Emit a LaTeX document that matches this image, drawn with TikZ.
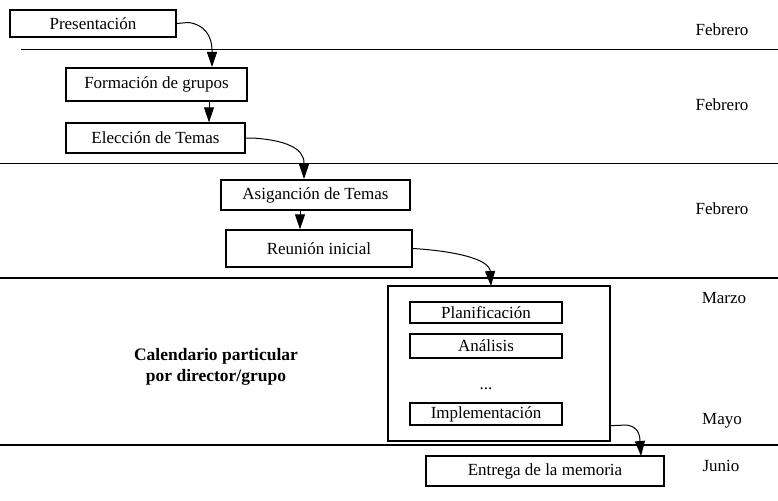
\documentclass[tikz,border=0pt]{standalone}
\usepackage{fontspec}
\setmainfont{Liberation Serif}
\usetikzlibrary{arrows.meta}
\begin{document}
\begin{tikzpicture}[x=1pt,y=-1pt,
  every node/.style={font=\fontsize{17}{21}\selectfont},
  box/.style={draw=black,line width=1.3pt,fill=white,inner sep=0pt,anchor=center},
  sep/.style={line width=1.3pt},
  arr/.style={line width=1pt,-{Triangle[length=15pt,width=10pt]}},
  lab/.style={anchor=center,inner sep=0pt}]
\useasboundingbox (0,0) rectangle (778,500);
% separators
\draw[sep] (21,49.5) -- (778,49.5);
\draw[sep] (0,163.5) -- (778,163.5);
\draw[sep] (0,278) -- (778,278);
\draw[sep] (0,445) -- (778,445);
% boxes
\node[box,minimum width=166pt,minimum height=27pt] (pres) at (93,23.5) {Presentación};
\node[box,minimum width=181pt,minimum height=33pt] (form) at (156.5,84.5) {Formación de grupos};
\node[box,minimum width=179pt,minimum height=30pt] (elec) at (155.5,138) {Elección de Temas};
\node[box,minimum width=189pt,minimum height=30pt] (asig) at (315.5,195) {Asiganción de Temas};
\node[box,minimum width=186pt,minimum height=37pt] (reun) at (319,248.5) {Reunión inicial};
\node[box,minimum width=222pt,minimum height=155pt] (big) at (499,363.5) {};
\node[box,minimum width=152pt,minimum height=21pt] (plan) at (486,312.5) {Planificación};
\node[box,minimum width=152pt,minimum height=24pt] (anal) at (486,346) {Análisis};
\node[lab] (dots) at (486,389) {...};
\node[box,minimum width=152pt,minimum height=22pt] (impl) at (486,414) {Implementación};
\node[box,minimum width=238pt,minimum height=30pt] (entr) at (545,471) {Entrega de la memoria};
% month labels
\node[lab] (m1) at (722,30) {Febrero};
\node[lab] (m2) at (722,105) {Febrero};
\node[lab] (m3) at (722,209) {Febrero};
\node[lab] (m4) at (724,298) {Marzo};
\node[lab] (m5) at (722,421) {Mayo};
\node[lab] (m6) at (721,466) {Junio};
\node[lab,align=center,font=\fontsize{17.5}{21}\selectfont\bfseries] (cal) at (216,367) {Calendario particular\\por director/grupo};
% connector end points
\coordinate (t1) at (212,67);
\coordinate (t3) at (304,179);
\coordinate (t5) at (491,286);
\coordinate (t6) at (641,456);
% connectors
\draw[arr] (pres.east) -- (188,22.5) .. controls (204,24) and (212,36) .. (212,50) -- (t1);
\draw[arr] (209,0 |- form.south) -- (209,0 |- elec.north);
\draw[arr] (elec.east) -- (252,138) .. controls (285,140) and (304,148) .. (304,163) -- (t3);
\draw[arr] (300,0 |- asig.south) -- (300,0 |- reun.north);
\draw[arr] (reun.east) .. controls (440,250) and (486,256) .. (490,270) -- (t5);
\draw[arr] (big.east |- impl.south) -- (627,425) .. controls (637,427) and (640,433) .. (640,442) -- (t6);
\end{tikzpicture}
\end{document}
